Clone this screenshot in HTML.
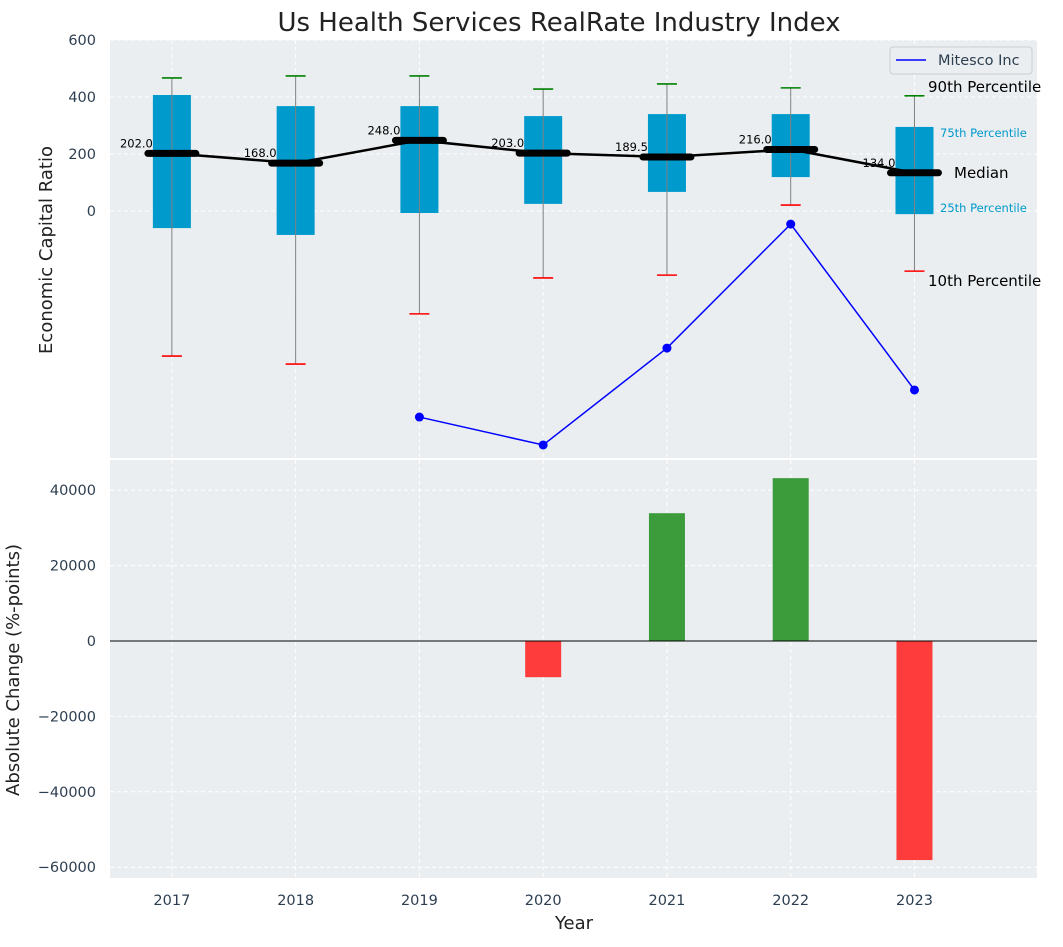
<!DOCTYPE html>
<html><head><meta charset="utf-8"><style>
body{margin:0;background:#fff;}
svg text{font-family:"DejaVu Sans","Liberation Sans",sans-serif;}
</style></head><body>
<svg id="c" width="1063" height="942" xmlns="http://www.w3.org/2000/svg"></svg>
<script>
const years=[2017,2018,2019,2020,2021,2022,2023];
const p10=[-509,-537,-361,-235,-225,21,-211];
const q1=[-60,-84,-7,25,67,119,-11];
const med=[202,168,248,203,189.5,216,134];
const q3=[407,368,368,333,340,340,295];
const p90=[467,474,474,428,446,432,404];
const compYears=[2019,2020,2021,2022,2023];
const compVals=[-723,-821,-481,-46,-628];
const chgYears=[2020,2021,2022,2023];
const chgVals=[-9600,33900,43200,-58100];
const topTicks=[0,200,400,600];
const botTicks=[-60000,-40000,-20000,0,20000,40000];

const NS="http://www.w3.org/2000/svg";
const svg=document.getElementById('c');
function el(t,a,txt){const e=document.createElementNS(NS,t);for(const k in a)e.setAttribute(k,a[k]);if(txt!==undefined)e.textContent=txt;svg.appendChild(e);return e;}
const L=110,R=1037;
const x=v=>L+(v-2016.50)/(2023.99-2016.50)*(R-L);
const yT=v=>211-v*0.285;
const yB=v=>641-v*0.00377;
const pxT=40,pbT=458,pxB=460,pbB=878;

let e=el('rect',{x:L,y:pxT,width:R-L,height:pbT-pxT,fill:'#eaeef0'});

e=el('rect',{x:L,y:pxB,width:R-L,height:pbB-pxB,fill:'#eaeef0'});


years.forEach(yr=>{
 el('line',{x1:x(yr),x2:x(yr),y1:pxT,y2:pbT,stroke:'#fff','stroke-dasharray':'4,3','stroke-width':1});
 el('line',{x1:x(yr),x2:x(yr),y1:pxB,y2:pbB,stroke:'#fff','stroke-dasharray':'4,3','stroke-width':1});
 const t=el('text',{x:x(yr),y:905,'text-anchor':'middle','font-size':14.5,fill:'#2d3e50'},yr);
 
});
topTicks.forEach(v=>{
 el('line',{x1:L,x2:R,y1:yT(v),y2:yT(v),stroke:'#fff','stroke-dasharray':'4,3'});
 const t=el('text',{x:96,y:yT(v)+5,'text-anchor':'end','font-size':14.5,fill:'#2d3e50'},v);
 
});
botTicks.forEach(v=>{
 el('line',{x1:L,x2:R,y1:yB(v),y2:yB(v),stroke:'#fff','stroke-dasharray':'4,3'});
 const t=el('text',{x:96,y:yB(v)+5,'text-anchor':'end','font-size':14.5,fill:'#2d3e50'},v<0?'\u2212'+(-v):v);
 
});

years.forEach((yr,i)=>{
 const cx=x(yr);
 const b=el('rect',{x:cx-19,y:yT(q3[i]),width:38,height:yT(q1[i])-yT(q3[i]),fill:'#009acd'});
 
 el('line',{x1:cx,x2:cx,y1:yT(p90[i]),y2:yT(p10[i]),stroke:'#808080','stroke-width':1});
 el('line',{x1:cx-10,x2:cx+10,y1:yT(p90[i]),y2:yT(p90[i]),stroke:'#008000','stroke-width':1.6});
 el('line',{x1:cx-10,x2:cx+10,y1:yT(p10[i]),y2:yT(p10[i]),stroke:'#ff0000','stroke-width':1.6});
});
let pts=years.map((yr,i)=>x(yr)+','+yT(med[i])).join(' ');
e=el('polyline',{points:pts,fill:'none',stroke:'#000','stroke-width':2.5});

years.forEach((yr,i)=>{
 const cx=x(yr);
 const m=el('line',{x1:cx-24,x2:cx+24,y1:yT(med[i]),y2:yT(med[i]),stroke:'#000','stroke-width':7,'stroke-linecap':'round'});
 
 const t=el('text',{x:cx-19,y:yT(med[i])-6,'text-anchor':'end','font-size':11.5,fill:'#000'},med[i].toFixed(1));
 
});
pts=compYears.map((yr,i)=>x(yr)+','+yT(compVals[i])).join(' ');
e=el('polyline',{points:pts,fill:'none',stroke:'#0000ff','stroke-width':1.5});

compYears.forEach((yr,i)=>{
 const p=el('circle',{cx:x(yr),cy:yT(compVals[i]),r:4.5,fill:'#0000ff'});
 
});
[['90th Percentile',928,92,15,'#000'],['75th Percentile',940,137,11.5,'#0099cc'],['Median',954,178,15,'#000'],['25th Percentile',940,212,11.5,'#0099cc'],['10th Percentile',928,286,15,'#000']].forEach(a=>{
 const t=el('text',{x:a[1],y:a[2],'font-size':a[3],fill:a[4]},a[0]);
 
});
e=el('rect',{x:890,y:47,width:142,height:27,fill:'#eaeef0',stroke:'#ccc',rx:3});

el('line',{x1:896,x2:926,y1:60,y2:60,stroke:'#0000ff','stroke-width':1.5});
e=el('text',{x:938,y:65,'font-size':14.5,fill:'#2d3e50'},'Mitesco Inc');


chgYears.forEach((yr,i)=>{
 const v=chgVals[i];
 const b=el('rect',{x:x(yr)-18,y:Math.min(yB(v),yB(0)),width:36,height:Math.abs(yB(v)-yB(0)),fill:v>=0?'#3c9c3c':'#ff3c3c'});
 
});
el('line',{x1:L,x2:R,y1:yB(0),y2:yB(0),stroke:'#000','stroke-width':1});

e=el('text',{x:559,y:31,'text-anchor':'middle','font-size':26,fill:'#222'},'Us Health Services RealRate Industry Index');

e=el('text',{x:52,y:250,'text-anchor':'middle','font-size':18,fill:'#222',transform:'rotate(-90 52 250)'},'Economic Capital Ratio');

e=el('text',{x:19,y:670,'text-anchor':'middle','font-size':18,fill:'#222',transform:'rotate(-90 19 670)'},'Absolute Change (%-points)');

e=el('text',{x:574,y:929,'text-anchor':'middle','font-size':18,fill:'#222'},'Year');

</script>
</body></html>
